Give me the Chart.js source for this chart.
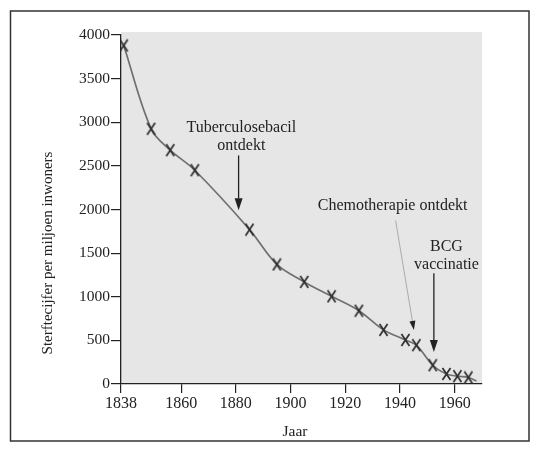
<!DOCTYPE html>
<html>
<head>
<meta charset="utf-8">
<script src="https://cdn.jsdelivr.net/npm/chart.js@4/dist/chart.umd.min.js"></script>
<style>
  html, body { margin: 0; padding: 0; background: #fff; }
  canvas { display: block; }
</style>
</head>
<body>
<canvas id="tbChart" width="539" height="455" style="width:539px;height:455px"></canvas>
<script>
// Sterftecijfer tuberculose (per miljoen inwoners), gelezen uit de grafiek
const years = [1839, 1849, 1856, 1865, 1885, 1895, 1905, 1915, 1925, 1934, 1942, 1946, 1952, 1957, 1961, 1965, 1968];
const deaths = [3880, 2925, 2680, 2450, 1770, 1370, 1170, 1005, 840, 620, 505, 445, 215, 115, 90, 75, 35];
const xTickYears = [1838, 1860, 1880, 1900, 1920, 1940, 1960];
const yTicks = [0, 500, 1000, 1500, 2000, 2500, 3000, 3500, 4000];

const FONT = '"Liberation Serif", "DejaVu Serif", serif';
const INK = '#222';

// pijlen + teksten in data-eenheden (jaar, waarde)
const notes = [
    { lines: ['Tuberculosebacil', 'ontdekt'], textAt: [1882, 2940], from: [1881, 2620], to: [1881, 1990], thin: false },
    { lines: ['Chemotherapie ontdekt'], textAt: [1937.3, 2046], from: [1938.4, 1874], to: [1945.1, 620], thin: true },
    { lines: ['BCG', 'vaccinatie'], textAt: [1957, 1577], from: [1952.4, 1270], to: [1952.4, 366], thin: false }
];

// hoog, smal kruisje zoals in het origineel
const cross = document.createElement('canvas');
cross.width = 11;
cross.height = 14;
(function () {
    const g = cross.getContext('2d');
    g.strokeStyle = '#2e2e2e';
    g.lineWidth = 1.7;
    g.beginPath();
    g.moveTo(1.5, 1); g.lineTo(9.5, 13);
    g.moveTo(9.5, 1); g.lineTo(1.5, 13);
    g.stroke();
})();

function arrow(c, x1, y1, x2, y2, thin) {
    const ang = Math.atan2(y2 - y1, x2 - x1);
    const hl = thin ? 9 : 12, hw = thin ? 3 : 4;
    const bx = x2 - hl * Math.cos(ang), by = y2 - hl * Math.sin(ang);
    c.save();
    c.strokeStyle = thin ? '#9a9a9a' : INK;
    c.lineWidth = thin ? 0.8 : 1.3;
    c.beginPath();
    c.moveTo(x1, y1);
    c.lineTo(bx, by);
    c.stroke();
    c.fillStyle = INK;
    c.beginPath();
    c.moveTo(x2, y2);
    c.lineTo(bx + hw * Math.sin(ang), by - hw * Math.cos(ang));
    c.lineTo(bx - hw * Math.sin(ang), by + hw * Math.cos(ang));
    c.closePath();
    c.fill();
    c.restore();
}

const decor = {
    id: 'decor',
    beforeDraw(chart) {
        const c = chart.ctx, a = chart.chartArea;
        c.save();
        c.fillStyle = '#fff';
        c.fillRect(0, 0, chart.width, chart.height);
        c.fillStyle = '#e6e6e6';
        c.fillRect(a.left, a.top - 3, a.right - a.left, a.bottom - a.top + 3);
        c.restore();
    },
    afterDraw(chart) {
        const c = chart.ctx;
        const xs = chart.scales.x, ys = chart.scales.y;
        c.save();
        // kader
        c.strokeStyle = '#333';
        c.lineWidth = 1.5;
        c.strokeRect(10.5, 11, 518.5, 430);

        c.fillStyle = INK;
        c.textAlign = 'center';
        c.textBaseline = 'middle';
        // astitels
        c.font = '15.5px ' + FONT;
        c.fillText('Jaar', 295, 432);
        c.save();
        c.translate(48, 253);
        c.rotate(-Math.PI / 2);
        c.font = '15px ' + FONT;
        c.fillText('Sterftecijfer per miljoen inwoners', 0, 0);
        c.restore();

        c.font = '16px ' + FONT;
        notes.forEach(n => {
            const tx = xs.getPixelForValue(n.textAt[0]);
            const ty = ys.getPixelForValue(n.textAt[1]);
            n.lines.forEach((t, i) => c.fillText(t, tx, ty + i * 18));
            arrow(c, xs.getPixelForValue(n.from[0]), ys.getPixelForValue(n.from[1]),
                xs.getPixelForValue(n.to[0]), ys.getPixelForValue(n.to[1]), n.thin);
        });
        c.restore();
    }
};

const ctx = document.getElementById('tbChart');

new Chart(ctx, {
    type: 'line',
    data: {
        datasets: [{
            data: years.map((y, i) => ({ x: y, y: deaths[i] })),
            borderColor: '#707070',
            borderWidth: 1.7,
            tension: 0.35,
            pointStyle: c => c.dataIndex === years.length - 1 ? false : cross,
            pointRadius: 6,
            fill: false
        }]
    },
    options: {
        responsive: false,
        animation: false,
        devicePixelRatio: 1,
        layout: { padding: { top: 35, right: 57, bottom: 0, left: 0 } },
        plugins: { legend: { display: false }, tooltip: { enabled: false } },
        scales: {
            x: {
                type: 'linear',
                min: 1838,
                max: 1970,
                afterBuildTicks: s => { s.ticks = xTickYears.map(v => ({ value: v })); },
                afterFit: s => { s.height = 71; },
                grid: { drawOnChartArea: false, tickLength: 9, color: INK, lineWidth: 1.2 },
                border: { color: INK, width: 1.3 },
                ticks: { color: INK, font: { family: FONT, size: 16 }, padding: 1, maxRotation: 0, callback: v => String(v) }
            },
            y: {
                min: 0,
                max: 4000,
                afterBuildTicks: s => { s.ticks = yTicks.map(v => ({ value: v })); },
                afterFit: s => { s.width = 121; },
                grid: { drawOnChartArea: false, tickLength: 10, color: INK, lineWidth: 1.2 },
                border: { color: INK, width: 1.3 },
                ticks: { color: INK, font: { family: FONT, size: 15.5 }, padding: 1, callback: v => String(v) }
            }
        }
    },
    plugins: [decor]
});
</script>
</body>
</html>
